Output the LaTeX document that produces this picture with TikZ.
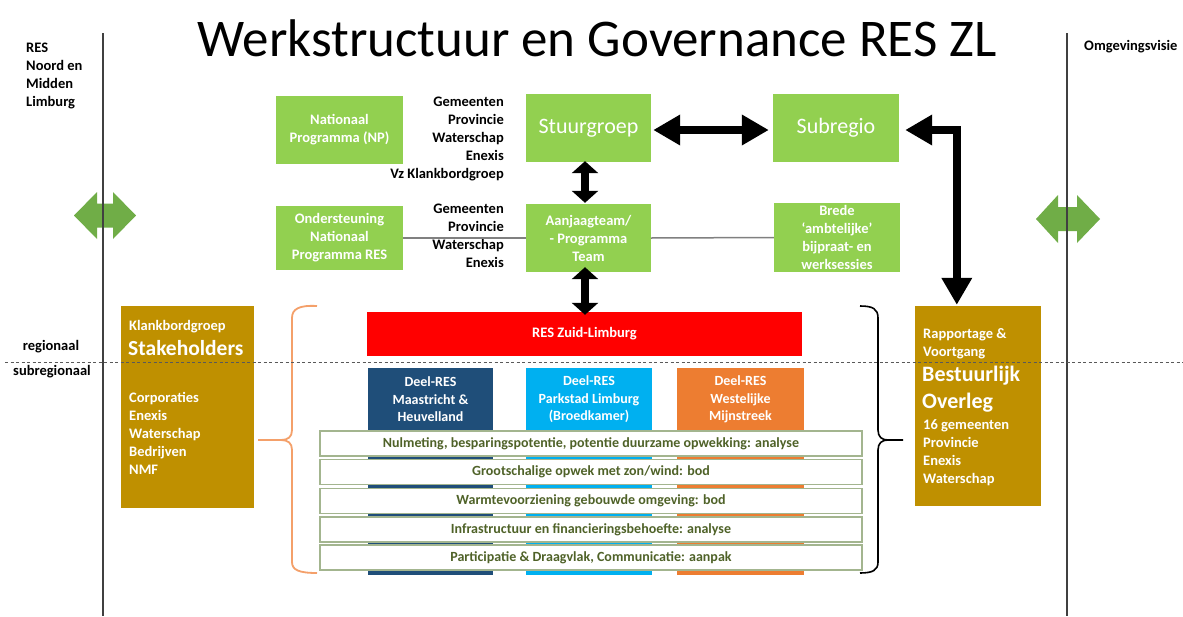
\documentclass[tikz,border=0pt]{standalone}
\usepackage{fontspec}
\setmainfont{Carlito}
\usetikzlibrary{arrows.meta,calc}
\definecolor{gboxc}{HTML}{92D050}
\definecolor{garrow}{HTML}{70AD47}
\definecolor{goldc}{HTML}{BF9000}
\definecolor{dbluec}{HTML}{1F4E79}
\definecolor{lbluec}{HTML}{00B0F0}
\definecolor{dorangec}{HTML}{ED7D31}
\definecolor{obracec}{HTML}{F4A06A}
\definecolor{rowb}{HTML}{A3B58F}
\definecolor{rowtext}{HTML}{4F6228}
\definecolor{vlinec}{HTML}{404040}
\definecolor{thinc}{HTML}{808080}
\begin{document}
\begin{tikzpicture}[x=1pt,y=-1pt,
  sm/.style={font=\bfseries\fontsize{14.5}{18}\selectfont},
  big/.style={font=\fontsize{22}{26}\selectfont},
  sz/.style 2 args={minimum width=#1pt, minimum height=#2pt},
  gbox/.style={fill=gboxc, text=white, inner sep=0pt, align=center, sm},
  txt/.style={inner sep=0pt, align=left},
  wtxt/.style={txt, text=white, anchor=west},
  deeltxt/.style={inner sep=0pt, align=center, text=white, font=\bfseries\fontsize{14}{17.5}\selectfont},
  rowbox/.style={draw=rowb, line width=1.8pt, fill=white, sz={542}{25}, inner sep=0pt,
    text=rowtext, font=\bfseries\fontsize{14}{16}\selectfont},
  fat/.style={line width=8pt, line join=miter,
    {Triangle[width=29pt,length=27pt]}-{Triangle[width=29pt,length=27pt]}},
  mid/.style={line width=8pt,
    {Triangle[width=26pt,length=12pt]}-{Triangle[width=26pt,length=12pt]}},
  thinline/.style={draw=thinc, line width=1.5pt},
  vline/.style={draw=vlinec, line width=2pt},
  sepline/.style={draw=black!65, line width=1pt, dash pattern=on 3pt off 2.5pt},
  garrowshape/.style={fill=garrow, draw=none}
]
\useasboundingbox (0,0) rectangle (1183,616);
\fill[white] (0,0) rectangle (1183,616);

% title
\node[inner sep=0pt, font=\fontsize{53}{60}\selectfont] (title) at (597,38) {Werkstructuur en Governance RES ZL};

% side labels
\node[sm, txt, anchor=west] (rnm) at (26,75.5) {RES\\Noord en\\Midden\\Limburg};
\node[sm, txt, anchor=west] (omg) at (1084,47) {Omgevingsvisie};
\node[sm, txt] (reg) at (51,347) {regionaal};
\node[sm, txt] (subreg) at (52,372) {subregionaal};

% green double arrows
\fill[garrowshape] (74,215.5) -- (97,192) -- (97,203.5) -- (113,203.5) -- (113,192) -- (136,215.5)
  -- (113,239) -- (113,227.5) -- (97,227.5) -- (97,239) -- cycle;
\fill[garrowshape] (1036,219) -- (1058,195) -- (1058,207) -- (1077,207) -- (1077,195) -- (1100,219)
  -- (1077,243) -- (1077,231) -- (1058,231) -- (1058,243) -- cycle;

% vertical lines
\draw[vline] (103,33) -- (103,616);
\draw[vline] (1067,33) -- (1067,616);

% green boxes
\node[gbox, sz={127}{68}] (np) at (339.5,130) {Nationaal\\Programma (NP)};
\node[gbox, sz={125}{68}, big] (stuur) at (588.5,128) {Stuurgroep};
\node[gbox, sz={126}{68}, big] (subr) at (836,128) {Subregio};
\node[gbox, sz={127}{64}] (ond) at (339.5,238) {Ondersteuning\\Nationaal\\Programma RES};
\node[gbox, sz={125}{68}] (aan) at (588.5,238) {Aanjaagteam/\\- Programma\\Team};
\node[gbox, sz={126}{69}] (brede) at (837,237.5) {Brede\\‘ambtelijke’\\bijpraat- en\\werksessies};

% member lists
\node[sm, inner sep=0pt, align=right, anchor=east] (lst1) at (504,139) {Gemeenten\\Provincie\\Waterschap\\Enexis\\Vz Klankbordgroep};
\node[sm, inner sep=0pt, align=right, anchor=east] (lst2) at (504,236) {Gemeenten\\Provincie\\Waterschap\\Enexis};

% thin connectors
\draw[thinline] (ond.east) -- (aan.west);
\draw[thinline] (aan.east) -- (brede.west);

% Klankbordgroep box
\node[fill=goldc, sz={133}{202}, inner sep=0pt] (kb) at (187.5,407) {};
\node[wtxt, sm] (kbt1) at (129,327) {Klankbordgroep};
\node[wtxt, font=\bfseries\fontsize{21.5}{26}\selectfont] (kbt2) at (128,348) {Stakeholders};
\node[wtxt, sm] (kbt3) at (129,433.5) {Corporaties\\Enexis\\Waterschap\\Bedrijven\\NMF};

% Bestuurlijk Overleg box
\node[fill=goldc, sz={126}{200}, inner sep=0pt] (bo) at (978,406) {};
\node[wtxt, sm] (bot1) at (923,344) {Rapportage \&\\Voortgang};
\node[wtxt, font=\bfseries\fontsize{22}{27}\selectfont] (bot2) at (922,389.5) {Bestuurlijk\\Overleg};
\node[wtxt, sm] (bot3) at (923,453) {16 gemeenten\\Provincie\\Enexis\\Waterschap};

% RES Zuid-Limburg
\node[fill=red, sz={435}{44}, inner sep=0pt, text=white, sm] (res) at (584.5,334) {RES Zuid-Limburg};

% Deel-RES columns
\node[fill=dbluec, sz={125}{207}, inner sep=0pt] (d1) at (430.5,471.5) {};
\node[fill=lbluec, sz={126}{207}, inner sep=0pt] (d2) at (589,471.5) {};
\node[fill=dorangec, sz={127}{207}, inner sep=0pt] (d3) at (740.5,471.5) {};
\node[deeltxt] (d1t) at (430.5,399.5) {Deel-RES\\Maastricht \&\\Heuvelland};
\node[deeltxt] (d2t) at (589,399.5) {Deel-RES\\Parkstad Limburg\\(Broedkamer)};
\node[deeltxt] (d3t) at (740.5,399.5) {Deel-RES\\Westelijke\\Mijnstreek};

% theme rows
\node[rowbox] (r1) at (591,443.5) {Nulmeting, besparingspotentie, potentie duurzame opwekking: analyse};
\node[rowbox] (r2) at (591,472) {Grootschalige opwek met zon/wind: bod};
\node[rowbox] (r3) at (591,501) {Warmtevoorziening gebouwde omgeving: bod};
\node[rowbox] (r4) at (591,529.5) {Infrastructuur en financieringsbehoefte: analyse};
\node[rowbox] (r5) at (591,557.5) {Participatie \& Draagvlak, Communicatie: aanpak};

% braces
\draw[draw=obracec, line width=1.8pt]
  (317,306) .. controls (299,305) and (292,309) .. (292,318) -- (292,430)
  .. controls (292,437) and (288,440) .. (281,440) -- (258,440)
  (281,440) .. controls (288,440) and (292,443) .. (292,450) -- (292,562)
  .. controls (292,570) and (299,573) .. (317,573);
\draw[draw=black, line width=1.6pt]
  (860,306) .. controls (873,306) and (878,309) .. (878,318) -- (878,430)
  .. controls (878,437) and (882,440) .. (888,440) -- (903,440)
  (888,440) .. controls (882,440) and (878,443) .. (878,450) -- (878,562)
  .. controls (878,570) and (873,573) .. (860,573);

% thick arrows
\draw[fat] ([xshift=2pt,yshift=-2pt]stuur.east) -- ([xshift=-4pt,yshift=-2pt]subr.west);
\draw[mid] ([xshift=-3.5pt,yshift=1pt]stuur.south) -- ([xshift=-3.5pt,yshift=1pt]aan.north);
\draw[mid] ([xshift=-3.5pt,yshift=5pt]aan.south) -- ([xshift=0.5pt,yshift=-3pt]res.north);
\draw[fat] ([xshift=6pt,yshift=-2pt]subr.east) -| ([xshift=42pt,yshift=1pt]bo.north west);

% regional / subregional separator
\draw[sepline] (5,362) -- (1183,362);
\end{tikzpicture}
\end{document}
